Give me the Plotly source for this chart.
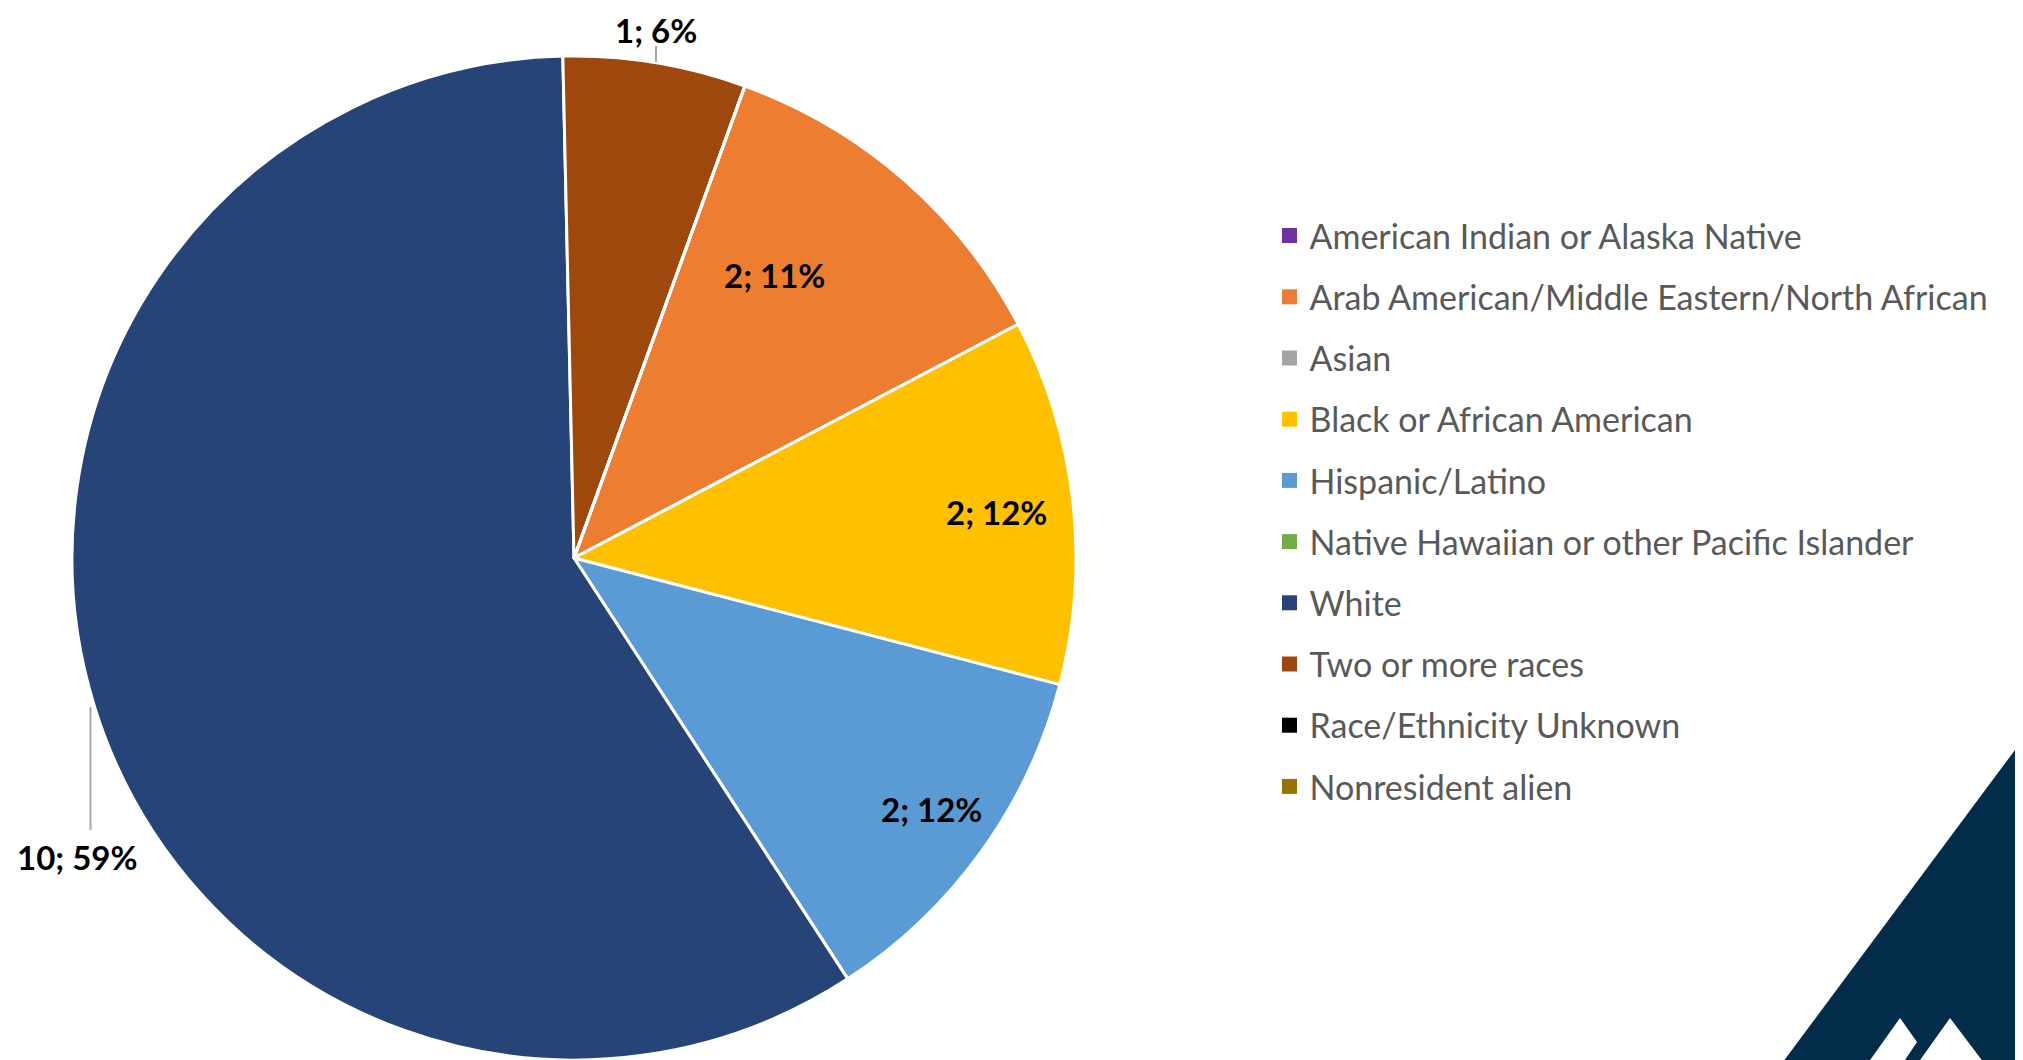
import plotly.graph_objects as go

# ---------------- data ----------------
categories = [
    "American Indian or Alaska Native",
    "Arab American/Middle Eastern/North African",
    "Asian",
    "Black or African American",
    "Hispanic/Latino",
    "Native Hawaiian or other Pacific Islander",
    "White",
    "Two or more races",
    "Race/Ethnicity Unknown",
    "Nonresident alien",
]
counts = [0, 2, 0, 2, 2, 0, 10, 1, 0, 0]
pct_labels = [0, 11, 0, 12, 12, 0, 59, 6, 0, 0]

colors = ["#7030A0", "#ED7D31", "#A5A5A5", "#FFC000", "#5B9BD5",
          "#70AD47", "#264478", "#9E480E", "#000000", "#997300"]

W, H = 2023, 1060
OFF = 8  # page body margin


def px(x):
    return (x - OFF) / W


def py(y):
    return 1 - (y - OFF) / H


# label positions (screen pixels) for non-zero slices; anchor for vertical placement
label_pos = {
    "Arab American/Middle Eastern/North African": (774, 275, "middle"),
    "Black or African American": (996, 512, "middle"),
    "Hispanic/Latino": (931, 809, "middle"),
    "Two or more races": (656, OFF, "top"),
    "White": (77, 857, "middle"),
}

fig = go.Figure()

fig.add_trace(go.Pie(
    labels=categories,
    values=counts,
    sort=False,
    direction="clockwise",
    rotation=19.9,
    marker=dict(colors=colors, line=dict(color="white", width=3)),
    textinfo="none",
    hoverinfo="label+value+percent",
    showlegend=False,
    domain=dict(x=[px(574 - 502), px(574 + 502)], y=[py(558 + 502), py(558 - 502)]),
))

# legend entries
for cat, col in zip(categories, colors):
    fig.add_trace(go.Scatter(
        x=[None], y=[None], mode="markers", name=cat, legendgroup=cat,
        marker=dict(symbol="square", size=15, color=col),
        showlegend=True, hoverinfo="skip",
    ))

annotations = []
for cat, n, p in zip(categories, counts, pct_labels):
    if n == 0:
        continue
    x, y, anchor = label_pos[cat]
    annotations.append(dict(
        x=px(x), y=py(y), xref="paper", yref="paper",
        text=f"<b>{n}; {p}%</b>", showarrow=False,
        xanchor="center", yanchor=anchor,
        font=dict(family="Lato, 'Open Sans', sans-serif", size=33, color="#000000"),
    ))

shapes = [
    # leader lines
    dict(type="line", xref="paper", yref="paper", x0=px(656), x1=px(656), y0=py(46), y1=py(62),
         line=dict(color="#A6A6A6", width=2)),
    dict(type="line", xref="paper", yref="paper", x0=px(90.5), x1=px(90.5), y0=py(707), y1=py(830),
         line=dict(color="#A6A6A6", width=2)),
    # corner logo
    dict(type="path", xref="paper", yref="paper",
         path=f"M {px(2035)} {py(723)} L {px(1777)} {py(1070)} L {px(2035)} {py(1070)} Z",
         fillcolor="#032B4A", line=dict(width=0)),
    dict(type="path", xref="paper", yref="paper",
         path=f"M {px(1868)} {py(1063)} L {px(1900)} {py(1018)} L {px(1917)} {py(1042)} L {px(1903)} {py(1063)} Z",
         fillcolor="#FFFFFF", line=dict(width=0)),
    dict(type="path", xref="paper", yref="paper",
         path=f"M {px(1918)} {py(1063)} L {px(1950)} {py(1018)} L {px(1984)} {py(1063)} Z",
         fillcolor="#FFFFFF", line=dict(width=0)),
]

fig.update_layout(
    width=W, height=H,
    margin=dict(l=0, r=0, t=0, b=0),
    paper_bgcolor="white", plot_bgcolor="white",
    xaxis=dict(visible=False), yaxis=dict(visible=False),
    showlegend=True,
    legend=dict(
        x=px(1269.5), y=py(207), xanchor="left", yanchor="top",
        font=dict(family="Lato, 'Open Sans', sans-serif", size=34, color="#595959"),
        tracegroupgap=14, bgcolor="rgba(0,0,0,0)", itemsizing="trace",
    ),
    annotations=annotations,
    shapes=shapes,
)

fig.write_html("out.html")
